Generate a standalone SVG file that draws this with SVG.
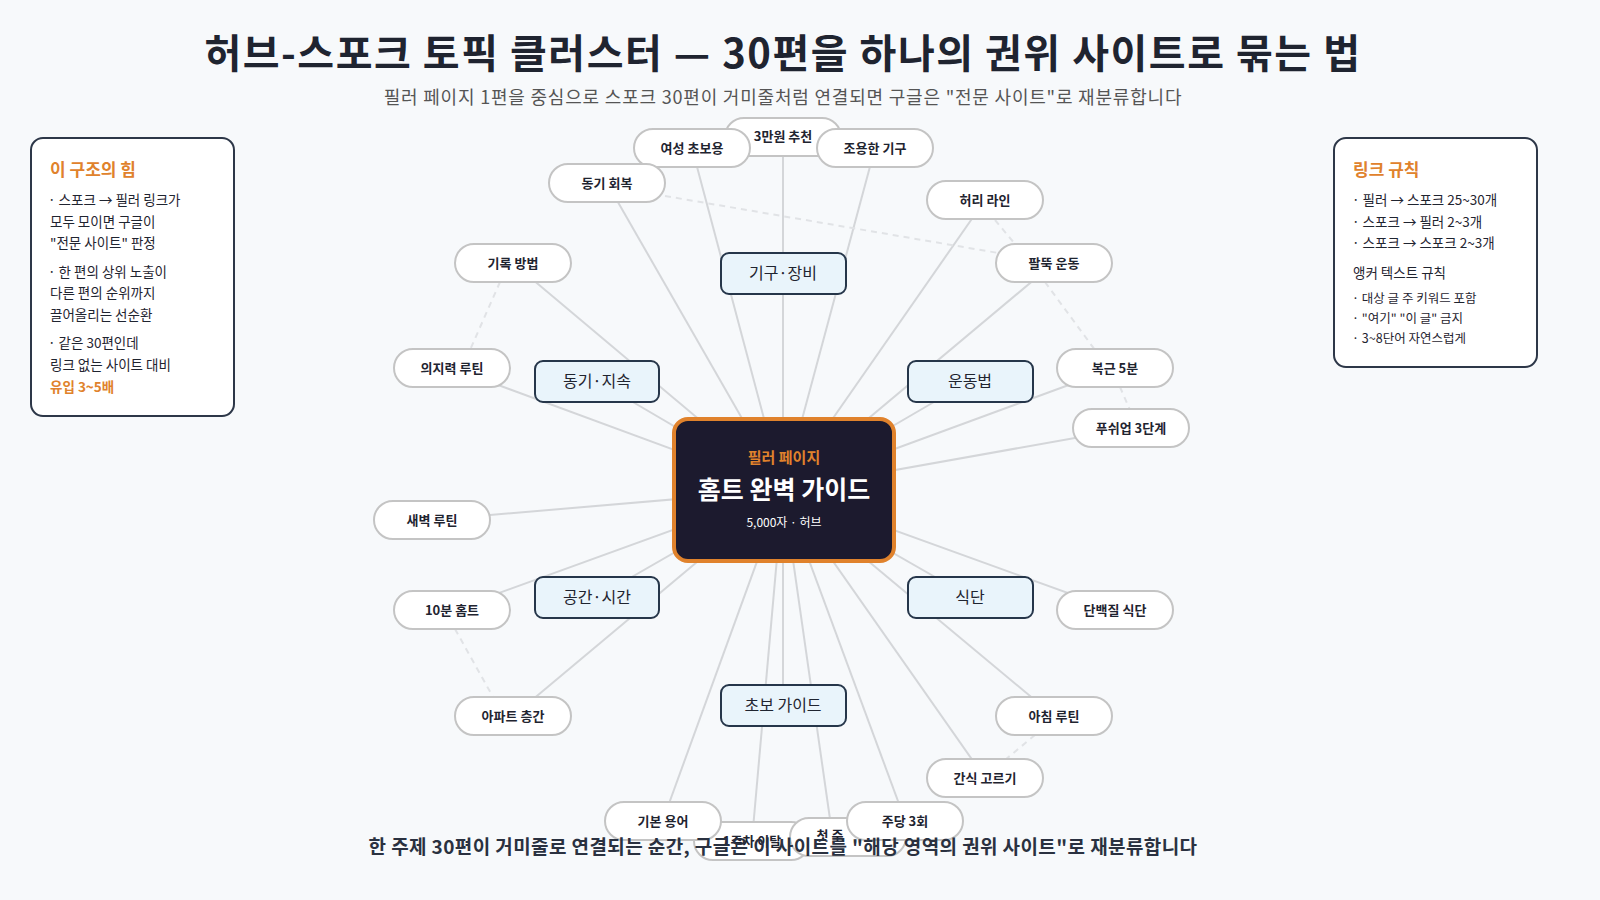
<svg xmlns="http://www.w3.org/2000/svg" width="1600" height="900" viewBox="0 0 1600 900">
<style>
text{font-family:"Noto Sans CJK KR","Noto Sans",sans-serif;fill:#1f2430}
.leaf rect{fill:#fff;stroke:#c4c4c4;stroke-width:2}
.leaf text{font-size:13px;font-weight:700;text-anchor:middle}
.cl rect{fill:#e9f4fb;stroke:#26364a;stroke-width:2}
.cl text{font-size:16px;text-anchor:middle}
.ln line{stroke:#d4d6d9;stroke-width:2}
.ln .d{stroke:#e1e3e6;stroke-dasharray:6 5}
.box{fill:#fff;stroke:#2d3748;stroke-width:2}
.bt{font-size:13.5px}
.org{fill:#e0822c}
</style>
<rect width="1600" height="900" fill="#f7f9fb"/>
<text x="783" y="68" text-anchor="middle" font-size="40" font-weight="700" letter-spacing="1.5">허브-스포크 토픽 클러스터 — 30편을 하나의 권위 사이트로 묶는 법</text>
<text x="783" y="104" text-anchor="middle" font-size="18" letter-spacing="0.8" fill="#555" style="fill:#555">필러 페이지 1편을 중심으로 스포크 30편이 거미줄처럼 연결되면 구글은 "전문 사이트"로 재분류합니다</text>
<g id="connectors" class="ln">
<line x1="692" y1="148" x2="783" y2="490"/><line x1="783" y1="136" x2="783" y2="490"/><line x1="875" y1="148" x2="783" y2="490"/>
<line x1="607" y1="183" x2="783" y2="490"/><line x1="985" y1="200" x2="783" y2="490"/><line x1="513" y1="263" x2="783" y2="490"/>
<line x1="1054" y1="263" x2="783" y2="490"/><line x1="452" y1="368" x2="783" y2="490"/><line x1="1115" y1="368" x2="783" y2="490"/>
<line x1="1131" y1="428" x2="783" y2="490"/><line x1="432" y1="520" x2="783" y2="490"/><line x1="452" y1="610" x2="783" y2="490"/>
<line x1="1115" y1="610" x2="783" y2="490"/><line x1="513" y1="716" x2="783" y2="490"/><line x1="1054" y1="716" x2="783" y2="490"/>
<line x1="985" y1="778" x2="783" y2="490"/><line x1="663" y1="820" x2="783" y2="490"/><line x1="752" y1="840" x2="783" y2="490"/>
<line x1="833" y1="840" x2="783" y2="490"/><line x1="905" y1="820" x2="783" y2="490"/>
<line x1="783" y1="273" x2="783" y2="490"/><line x1="597" y1="381" x2="783" y2="490"/><line x1="970" y1="381" x2="783" y2="490"/>
<line x1="597" y1="597" x2="783" y2="490"/><line x1="970" y1="597" x2="783" y2="490"/><line x1="783" y1="705" x2="783" y2="490"/>
<line class="d" x1="665" y1="196" x2="1010" y2="255"/><line class="d" x1="995" y1="220" x2="1020" y2="250"/>
<line class="d" x1="500" y1="282" x2="470" y2="350"/><line class="d" x1="1045" y1="282" x2="1095" y2="350"/>
<line class="d" x1="1120" y1="387" x2="1130" y2="410"/><line class="d" x1="455" y1="629" x2="493" y2="697"/>
<line class="d" x1="1035" y1="735" x2="1005" y2="760"/>
</g>
<g id="side-left"><rect class="box" x="31" y="138" width="203" height="278" rx="12"/>
<text x="50" y="176" font-size="17" font-weight="700" class="org">이 구조의 힘</text>
<text class="bt" x="48" y="205">· 스포크 → 필러 링크가</text><text class="bt" x="50" y="227">모두 모이면 구글이</text><text class="bt" x="50" y="248">"전문 사이트" 판정</text>
<text class="bt" x="48" y="277">· 한 편의 상위 노출이</text><text class="bt" x="50" y="298">다른 편의 순위까지</text><text class="bt" x="50" y="320">끌어올리는 선순환</text>
<text class="bt" x="48" y="348">· 같은 30편인데</text><text class="bt" x="50" y="370">링크 없는 사이트 대비</text><text class="bt org" x="50" y="392" font-weight="700">유입 3~5배</text></g>
<g id="side-right"><rect class="box" x="1334" y="138" width="203" height="229" rx="12"/>
<text x="1353" y="176" font-size="17" font-weight="700" class="org">링크 규칙</text>
<text class="bt" x="1352" y="205">· 필러 → 스포크 25~30개</text><text class="bt" x="1352" y="227">· 스포크 → 필러 2~3개</text><text class="bt" x="1352" y="248">· 스포크 → 스포크 2~3개</text>
<text class="bt" x="1353" y="278">앵커 텍스트 규칙</text>
<text x="1352" y="303" font-size="12.5">· 대상 글 주 키워드 포함</text><text x="1352" y="323" font-size="12.5">· "여기" "이 글" 금지</text><text x="1352" y="343" font-size="12.5">· 3~8단어 자연스럽게</text></g>
<g id="cl1" class="cl"><rect x="721" y="253" width="125" height="41" rx="8"/><text x="783" y="279">기구·장비</text></g>
<g id="cl2" class="cl"><rect x="535" y="361" width="124" height="41" rx="8"/><text x="597" y="387">동기·지속</text></g>
<g id="cl3" class="cl"><rect x="908" y="361" width="125" height="41" rx="8"/><text x="970" y="387">운동법</text></g>
<g id="cl4" class="cl"><rect x="535" y="577" width="124" height="41" rx="8"/><text x="597" y="603">공간·시간</text></g>
<g id="cl5" class="cl"><rect x="908" y="577" width="125" height="41" rx="8"/><text x="970" y="603">식단</text></g>
<g id="cl6" class="cl"><rect x="721" y="685" width="125" height="41" rx="8"/><text x="783" y="711">초보 가이드</text></g>
<g id="l02" class="leaf"><rect x="725" y="118" width="116" height="38" rx="19"/><text x="783" y="141">3만원 추천</text></g>
<g id="l01" class="leaf"><rect x="634" y="129" width="116" height="38" rx="19"/><text x="692" y="153">여성 초보용</text></g>
<g id="l03" class="leaf"><rect x="817" y="129" width="116" height="38" rx="19"/><text x="875" y="153">조용한 기구</text></g>
<g id="l04" class="leaf"><rect x="549" y="164" width="116" height="38" rx="19"/><text x="607" y="188">동기 회복</text></g>
<g id="l05" class="leaf"><rect x="927" y="181" width="116" height="38" rx="19"/><text x="985" y="205">허리 라인</text></g>
<g id="l06" class="leaf"><rect x="455" y="244" width="116" height="38" rx="19"/><text x="513" y="268">기록 방법</text></g>
<g id="l07" class="leaf"><rect x="996" y="244" width="116" height="38" rx="19"/><text x="1054" y="268">팔뚝 운동</text></g>
<g id="l08" class="leaf"><rect x="394" y="349" width="116" height="38" rx="19"/><text x="452" y="373">의지력 루틴</text></g>
<g id="l09" class="leaf"><rect x="1057" y="349" width="116" height="38" rx="19"/><text x="1115" y="373">복근 5분</text></g>
<g id="l10" class="leaf"><rect x="1073" y="409" width="116" height="38" rx="19"/><text x="1131" y="433">푸쉬업 3단계</text></g>
<g id="l11" class="leaf"><rect x="374" y="501" width="116" height="38" rx="19"/><text x="432" y="525">새벽 루틴</text></g>
<g id="l12" class="leaf"><rect x="394" y="591" width="116" height="38" rx="19"/><text x="452" y="615">10분 홈트</text></g>
<g id="l13" class="leaf"><rect x="1057" y="591" width="116" height="38" rx="19"/><text x="1115" y="615">단백질 식단</text></g>
<g id="l14" class="leaf"><rect x="455" y="697" width="116" height="38" rx="19"/><text x="513" y="721">아파트 층간</text></g>
<g id="l15" class="leaf"><rect x="996" y="697" width="116" height="38" rx="19"/><text x="1054" y="721">아침 루틴</text></g>
<g id="l16" class="leaf"><rect x="927" y="759" width="116" height="38" rx="19"/><text x="985" y="783">간식 고르기</text></g>
<g id="l18" class="leaf"><rect x="694" y="822" width="116" height="38" rx="19"/><text x="752" y="846">1주차 이탈</text></g>
<g id="l17" class="leaf"><rect x="605" y="802" width="116" height="38" rx="19"/><text x="663" y="826">기본 용어</text></g>
<g id="l19" class="leaf"><rect x="790" y="818" width="116" height="38" rx="19"/><text x="830" y="840">첫 주</text></g>
<g id="l20" class="leaf"><rect x="847" y="802" width="116" height="38" rx="19"/><text x="905" y="826">주당 3회</text></g>
<g id="hub"><rect x="674" y="419" width="220" height="142" rx="14" fill="#1c1a2e" stroke="#e0822c" stroke-width="4"/>
<text x="784" y="463" text-anchor="middle" font-size="15" font-weight="700" class="org">필러 페이지</text>
<text x="784" y="499" text-anchor="middle" font-size="25" font-weight="700" style="fill:#fff">홈트 완벽 가이드</text>
<text x="784" y="527" text-anchor="middle" font-size="12" style="fill:#fff">5,000자 · 허브</text></g>
<text x="783" y="854" text-anchor="middle" font-size="19" font-weight="700" letter-spacing="0.4" style="fill:#2a3140">한 주제 30편이 거미줄로 연결되는 순간, 구글은 이 사이트를 "해당 영역의 권위 사이트"로 재분류합니다</text>
</svg>
